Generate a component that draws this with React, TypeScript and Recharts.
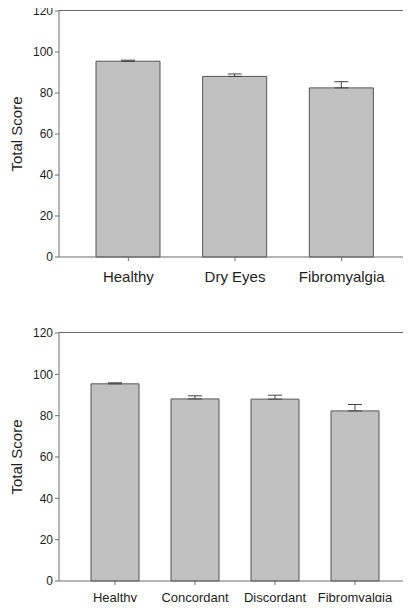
import React from 'react';
import { BarChart, Bar, XAxis, YAxis, ErrorBar, Label } from 'recharts';

const groupsTop = ['Healthy', 'Dry Eyes', 'Fibromyalgia'];
const scoresTop = [95.5, 88.1, 82.5];
const errorsTop = [0.5, 1.2, 3.0];

const groupsBottom = ['Healthy', 'Concordant', 'Discordant', 'Fibromyalgia'];
const scoresBottom = [95.4, 88.1, 88.0, 82.3];
const errorsBottom = [0.5, 1.5, 1.9, 3.1];

const yTicks = [0, 20, 40, 60, 80, 100, 120];
const yMax = 120;
const yLabelText = 'Total Score';

const FONT = '"Liberation Sans", Arial, sans-serif';
const AXIS = '#6a6a6a';
const TEXT = '#1e1e1e';

const CHART_W = 411;
const Y_AXIS_W = 59;
const MARGIN_RIGHT = 2;

const YLabel = (props: any) => {
  const vb = props.viewBox || { x: 0, y: 0, width: 59, height: 240 };
  const x = vb.x + 16;
  const y = vb.y + vb.height / 2;
  return (
    <text
      x={x}
      y={y}
      transform={`rotate(-90 ${x} ${y})`}
      textAnchor="middle"
      dominantBaseline="central"
      fontSize={15}
      fill={TEXT}
      fontFamily={FONT}
    >
      {yLabelText}
    </text>
  );
};

type PanelProps = {
  groups: string[];
  scores: number[];
  errors: number[];
  height: number;
  top: number;
  marginTop: number;
  xAxisHeight: number;
  xFont: number;
  xTickMargin: number;
  barSize: number;
};

const Panel = (p: PanelProps) => {
  const data = p.groups.map((g, i) => ({ group: g, score: p.scores[i], err: [0, p.errors[i]] }));
  const plotW = CHART_W - Y_AXIS_W - MARGIN_RIGHT;
  const plotH = p.height - p.marginTop - p.xAxisHeight;
  return (
    <div style={{ position: 'absolute', left: 0, top: p.top, width: CHART_W, height: p.height }}>
      <BarChart
        width={CHART_W}
        height={p.height}
        data={data}
        margin={{ top: p.marginTop, right: MARGIN_RIGHT, bottom: 0, left: 0 }}
      >
        <XAxis
          dataKey="group"
          padding={{ left: 16, right: 14 }}
          height={p.xAxisHeight}
          stroke={AXIS}
          tickSize={4}
          tickMargin={p.xTickMargin}
          tick={{ fill: TEXT, fontSize: p.xFont, fontFamily: FONT }}
          interval={0}
        />
        <YAxis
          domain={[0, yMax]}
          ticks={yTicks}
          width={Y_AXIS_W}
          stroke={AXIS}
          tickSize={4}
          tick={{ fill: TEXT, fontSize: 12, fontFamily: FONT }}
          interval={0}
        >
          <Label content={YLabel} />
        </YAxis>
        <Bar
          dataKey="score"
          fill="#c0c0c0"
          stroke="#555555"
          strokeWidth={1}
          barSize={p.barSize}
          isAnimationActive={false}
        >
          <ErrorBar dataKey="err" width={7} stroke="#444444" strokeWidth={1} direction="y" />
        </Bar>
      </BarChart>
      <div
        style={{
          position: 'absolute',
          left: Y_AXIS_W,
          top: p.marginTop - 1,
          width: plotW - 1,
          height: plotH,
          borderTop: `1px solid ${AXIS}`,
          borderRight: `1px solid ${AXIS}`,
          pointerEvents: 'none',
        }}
      />
    </div>
  );
};

export default function App() {
  return (
    <div style={{ position: 'relative', width: 411, height: 594 }}>
      <div style={{ position: 'absolute', left: -8, top: -8, width: 411, height: 610 }}>
        <Panel
          groups={groupsTop}
          scores={scoresTop}
          errors={errorsTop}
          height={300}
          top={0}
          marginTop={11}
          xAxisHeight={43}
          xFont={15}
          xTickMargin={10}
          barSize={64}
        />
        <Panel
          groups={groupsBottom}
          scores={scoresBottom}
          errors={errorsBottom}
          height={310}
          top={300}
          marginTop={33}
          xAxisHeight={29}
          xFont={13}
          xTickMargin={8}
          barSize={48}
        />
      </div>
    </div>
  );
}
